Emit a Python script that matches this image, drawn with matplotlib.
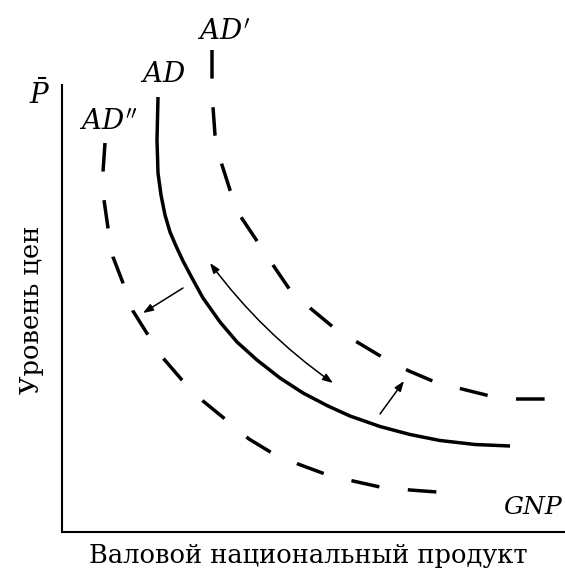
import matplotlib
matplotlib.use("Agg")
from matplotlib import pyplot as plt

plt.rcParams["font.family"] = ["DejaVu Serif"]
plt.rcParams["mathtext.fontset"] = "dejavuserif"
plt.rcParams["lines.scale_dashes"] = False

# curves: GNP (x) and price level (y), arbitrary units from the origin
ad_gnp = [96, 95, 96, 99, 103, 108, 114, 121, 130, 141, 158, 175, 195, 218, 241, 266,
          288, 318, 348, 378, 413, 448]
ad_price = [435, 392, 359, 337, 317, 300, 286, 271, 254, 234, 210, 190, 172, 154, 139, 126,
            116, 105.5, 97.5, 91.5, 87.5, 86]

ad1_gnp = [150, 150, 151, 153, 160, 168, 179, 195, 211, 228, 248, 271, 295, 320, 347, 373,
           400, 428, 455, 484]
ad1_price = [482, 454, 425, 397, 367, 342, 315, 291, 267, 242, 224, 205, 190, 175, 161, 150,
             143, 136, 133, 133]

ad2_gnp = [43, 41, 42, 46, 51, 61, 71, 86, 101, 120, 141, 163, 187, 210, 236, 263, 291, 318,
           348, 375]
ad2_price = [389, 360, 332, 304, 275, 249, 221, 197, 174, 152, 131, 113, 93, 79, 68, 58, 51,
             45, 42, 40]

curve_labels = [r"$AD''$", r"$AD$", r"$AD'$"]

fig = plt.figure(figsize=(5.65, 5.79), dpi=100)
ax = fig.add_axes([62 / 565, 47 / 579, 503 / 565, 447 / 579])
ax.set_xlim(0, 503)
ax.set_ylim(0, 447)
ax.set_xticks([])
ax.set_yticks([])
for s in ["top", "right"]:
    ax.spines[s].set_visible(False)
for s in ["left", "bottom"]:
    ax.spines[s].set_linewidth(1.5)

dash = (0, (20.6, 20.6))
ax.plot(ad_gnp, ad_price, color="black", lw=2.5, solid_capstyle="butt",
        solid_joinstyle="round", clip_on=False)
ax.plot(ad1_gnp, ad1_price, color="black", lw=2.5, linestyle=dash, clip_on=False)
ax.plot(ad2_gnp, ad2_price, color="black", lw=2.5, linestyle=dash, clip_on=False)

# shift arrows
arw = dict(arrowstyle="-|>,head_length=0.6,head_width=0.22", color="black", lw=1.1,
           shrinkA=0, shrinkB=0)
ax.annotate("", xy=(81, 219), xytext=(121, 244), arrowprops=arw)
ax.annotate("", xy=(342, 151), xytext=(318, 118), arrowprops=arw)
ax.annotate("", xy=(271, 149), xytext=(148, 269),
            arrowprops=dict(arrowstyle="<|-|>,head_length=0.6,head_width=0.22", color="black",
                            lw=1.1, shrinkA=0, shrinkB=0, connectionstyle="arc3,rad=0.08"))

lab = dict(fontsize=20, ha="center", va="center", clip_on=False)
ax.text(46, 410, curve_labels[0], **lab)
ax.text(101, 457, curve_labels[1], **lab)
ax.text(162, 500, curve_labels[2], **lab)
ax.text(-22, 437, r"$\bar{P}$", fontsize=20, ha="center", va="center")
ax.text(471, 25, "GNP", fontsize=18, style="italic", ha="center", va="center")

ax.text(246, -23, "Валовой национальный продукт", fontsize=18.5, ha="center", va="center")
ax.text(-30, 222, "Уровень цен", fontsize=18.5, rotation=90, ha="center", va="center")

fig.savefig("out.png", dpi=100)
